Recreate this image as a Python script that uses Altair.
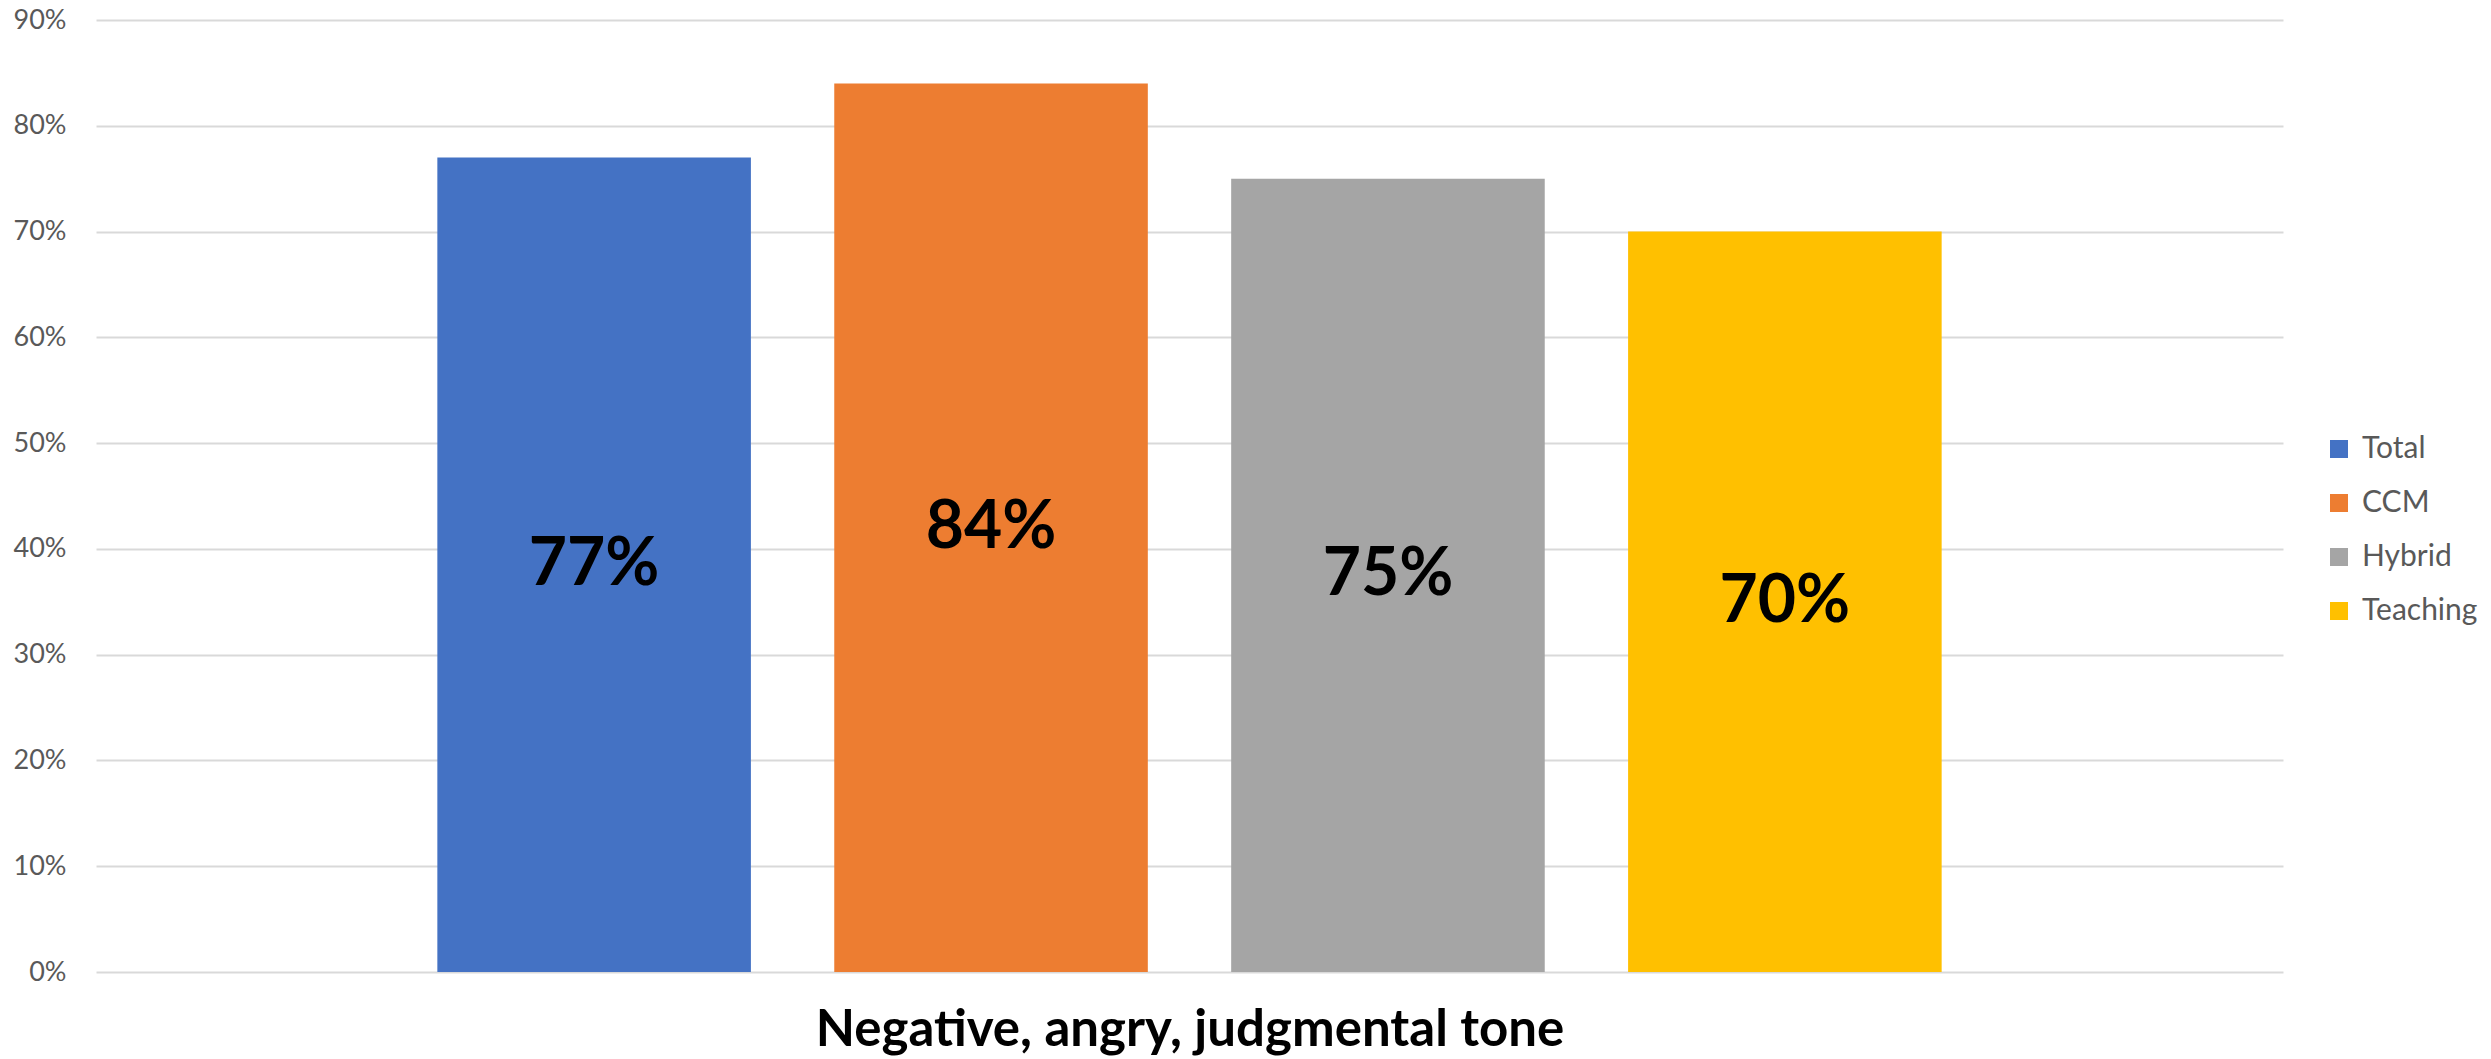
import altair as alt
import pandas as pd

series = ["Total", "CCM", "Hybrid", "Teaching"]
values = [0.77, 0.84, 0.75, 0.70]
colors = ["#4472C4", "#ED7D31", "#A5A5A5", "#FFC000"]
category = "Negative, angry, judgmental tone"
y_ticks = [0, 0.1, 0.2, 0.3, 0.4, 0.5, 0.6, 0.7, 0.8, 0.9]

df = pd.DataFrame({"series": series, "value": values})
df["half"] = df["value"] / 2
df["label"] = [f"{round(v*100)}%" for v in values]

x = alt.X(
    "series:N",
    sort=series,
    scale=alt.Scale(paddingInner=0.21, paddingOuter=0.86),
    axis=alt.Axis(
        labels=False, ticks=False, domain=False, grid=False,
        title=category, titleFont="Lato", titleFontWeight="bold",
        titleFontSize=51, titleColor="#000000", titlePadding=33,
    ),
)

bars = alt.Chart(df).mark_bar().encode(
    x=x,
    y=alt.Y(
        "value:Q",
        scale=alt.Scale(domain=[0, 0.9], nice=False),
        axis=alt.Axis(
            values=y_ticks, format=".0%", title=None, domain=False, ticks=False,
            labelFont="Lato", labelFontSize=27, labelColor="#595959",
            labelPadding=30, gridColor="#D9D9D9", gridWidth=2,
        ),
    ),
    color=alt.Color(
        "series:N",
        sort=series,
        scale=alt.Scale(domain=series, range=colors),
        legend=alt.Legend(
            title=None, orient="none", legendX=2228, legendY=414,
            symbolType="square", symbolSize=324, symbolStrokeWidth=0,
            labelFont="Lato", labelFontSize=30, labelColor="#595959",
            rowPadding=24, labelOffset=8, padding=0,
        ),
    ),
)

text = alt.Chart(df).mark_text(
    font="Lato", fontWeight="bold", fontSize=66, color="#000000", baseline="middle"
).encode(
    x=alt.X("series:N", sort=series),
    y=alt.Y("half:Q"),
    text="label:N",
)

chart = (
    alt.layer(bars, text)
    .properties(
        width=2187, height=952,
        padding={"left": 96, "top": 20, "right": 208, "bottom": 87},
        autosize=alt.AutoSizeParams(type="none"),
        background="#FFFFFF",
    )
    .configure_view(strokeWidth=0)
)

chart.save("out.html", embed_options={"renderer": "svg", "actions": False})
